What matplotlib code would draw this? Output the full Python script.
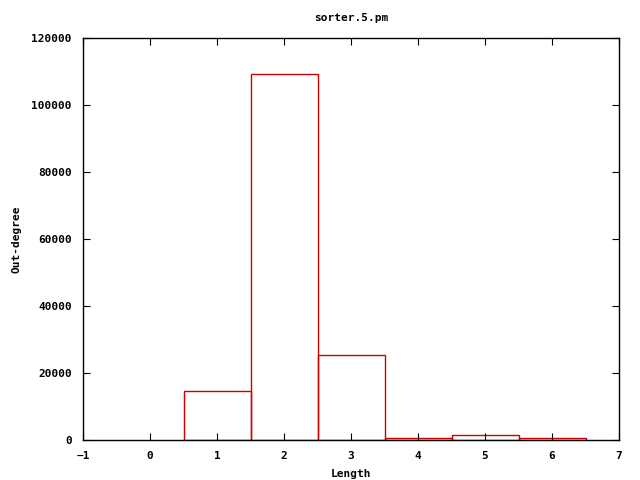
import matplotlib
matplotlib.use("Agg")
import matplotlib.pyplot as plt

lengths = [1, 2, 3, 4, 5, 6]
outdeg = [14600, 109300, 25400, 500, 1400, 500]
xticks = [-1, 0, 1, 2, 3, 4, 5, 6, 7]
yticks = [0, 20000, 40000, 60000, 80000, 100000, 120000]

plt.rcParams['font.family'] = ['DejaVu Sans Mono']
plt.rcParams['font.weight'] = 'bold'
plt.rcParams['font.size'] = 8

fig = plt.figure(figsize=(6.4, 4.8), dpi=100)
ax = fig.add_axes([83 / 640, 1 - 440 / 480, (619 - 83) / 640, (440 - 38) / 480])

ax.bar(lengths, outdeg, width=1.0, fill=False, edgecolor='#cc0000', linewidth=1)

ax.set_xlim(-1, 7)
ax.set_ylim(0, 120000)
ax.set_xticks(xticks)
ax.set_yticks(yticks)
ax.tick_params(direction='in', top=True, right=True, length=5, width=0.8, pad=8)
for s in ax.spines.values():
    s.set_linewidth(1)
    s.set_zorder(5)

ax.set_title("sorter.5.pm", fontsize=8, fontweight='bold', pad=12)
ax.set_xlabel("Length", fontweight='bold', labelpad=6)
ax.set_ylabel("Out-degree", fontweight='bold', labelpad=7)

fig.savefig("out.png", dpi=100)
